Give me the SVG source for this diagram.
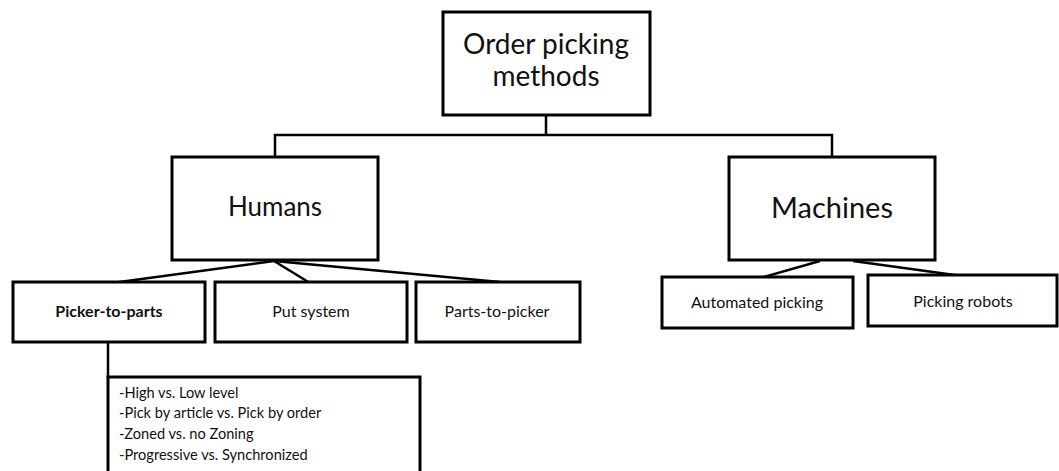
<svg xmlns="http://www.w3.org/2000/svg" width="1059" height="471" viewBox="0 0 1059 471">
  <style>
    .box { fill: #fff; stroke: #000; stroke-width: 3; }
    .link { fill: none; stroke: #000; stroke-width: 2.5; }
    text { font-family: Lato, "Open Sans", "Liberation Sans", sans-serif; fill: #111; text-anchor: middle; }
    .top { font-size: 28px; }
    .mid { font-size: 26px; }
    .big { font-size: 29px; }
    .small { font-size: 16px; }
    .list { font-size: 14.6px; text-anchor: start; }
  </style>
  <rect width="1059" height="471" fill="#fff"/>

  <!-- connectors -->
  <g id="connectors">
    <polyline class="link" points="546,115 546,135"/>
    <polyline class="link" points="275,157 275,135 832,135 832,157"/>
    <line class="link" x1="274" y1="261" x2="112" y2="283"/>
    <line class="link" x1="274" y1="261" x2="310" y2="283"/>
    <line class="link" x1="274" y1="261" x2="500" y2="282"/>
    <line class="link" x1="820" y1="261" x2="760" y2="278"/>
    <line class="link" x1="853" y1="261" x2="962" y2="276"/>
    <line class="link" x1="108" y1="342" x2="108" y2="378"/>
  </g>

  <g id="root">
    <rect class="box" x="443" y="12" width="207" height="103"/>
    <text class="top" x="546" y="54">Order picking</text>
    <text class="top" x="546" y="86">methods</text>
  </g>

  <g id="humans">
    <rect class="box" x="172" y="157" width="206" height="103"/>
    <text class="mid" x="275" y="216">Humans</text>
  </g>

  <g id="machines">
    <rect class="box" x="729" y="157" width="206" height="103"/>
    <text class="big" x="832" y="218">Machines</text>
  </g>

  <g id="picker-to-parts">
    <rect class="box" x="13" y="282" width="192" height="60"/>
    <text class="small" x="109" y="317" font-weight="bold">Picker-to-parts</text>
  </g>

  <g id="put-system">
    <rect class="box" x="215" y="282" width="192" height="60"/>
    <text class="small" x="311" y="317">Put system</text>
  </g>

  <g id="parts-to-picker">
    <rect class="box" x="416" y="282" width="164" height="60"/>
    <text class="small" x="497" y="317">Parts-to-picker</text>
  </g>

  <g id="automated-picking">
    <rect class="box" x="662" y="277" width="191" height="51"/>
    <text class="small" x="757" y="308">Automated picking</text>
  </g>

  <g id="picking-robots">
    <rect class="box" x="868" y="275" width="189" height="51"/>
    <text class="small" x="963" y="307">Picking robots</text>
  </g>

  <g id="picker-variants">
    <rect class="box" x="108" y="377" width="312" height="100"/>
    <text class="list" x="119" y="398">-High vs. Low level</text>
    <text class="list" x="119" y="418">-Pick by article vs. Pick by order</text>
    <text class="list" x="119" y="439">-Zoned vs. no Zoning</text>
    <text class="list" x="119" y="460">-Progressive vs. Synchronized</text>
  </g>
</svg>
